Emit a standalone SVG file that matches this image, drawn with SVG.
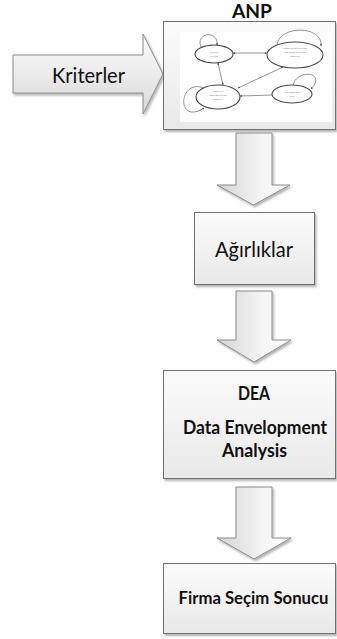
<svg xmlns="http://www.w3.org/2000/svg" width="337" height="639" viewBox="0 0 337 639">
  <defs>
    <linearGradient id="boxFill" x1="0" y1="0" x2="0" y2="1">
      <stop offset="0" stop-color="#fbfbfb"/>
      <stop offset="1" stop-color="#e9e9e9"/>
    </linearGradient>
    <linearGradient id="downFill" x1="0" y1="0" x2="1" y2="0">
      <stop offset="0" stop-color="#d4d4d4"/>
      <stop offset="0.6" stop-color="#f4f4f4"/>
      <stop offset="1" stop-color="#fdfdfd"/>
    </linearGradient>
    <linearGradient id="rightFill" x1="0" y1="0" x2="0" y2="1">
      <stop offset="0" stop-color="#fdfdfd"/>
      <stop offset="1" stop-color="#d9d9d9"/>
    </linearGradient>
    <filter id="shadow" x="-10%" y="-10%" width="125%" height="130%">
      <feDropShadow dx="1.5" dy="2" stdDeviation="1.2" flood-color="#000" flood-opacity="0.3"/>
    </filter>
    <marker id="tip" viewBox="0 0 6 6" refX="5.5" refY="3" markerWidth="3" markerHeight="3" orient="auto-start-reverse">
      <path d="M0,0 L6,3 L0,6 Z" fill="#444"/>
    </marker>
  </defs>
  <style>
    .box { fill: url(#boxFill); stroke: #6f6f6f; stroke-width: 1; filter: url(#shadow); }
    .down { fill: url(#downFill); stroke: #8a8a8a; stroke-width: 1; filter: url(#shadow); }
    .lbl { font-family: Lato, "Open Sans", "Liberation Sans", sans-serif; fill: #111; text-anchor: middle; }
    .reg { font-size: 22px; }
    .bold { font-size: 18px; font-weight: bold; }
    .ell { fill: #fff; stroke: #4a4a4a; stroke-width: 1.1; }
    .edge { fill: none; stroke: #666; stroke-width: 0.7; }
    .tiny { font-family: "Liberation Serif", serif; font-size: 2.8px; fill: #777; text-anchor: middle; }
  </style>

  <!-- input arrow: criteria -->
  <g id="node-kriterler">
    <path d="M13,55 H143 V34 L163,74 L143,114 V93 H13 Z" fill="url(#rightFill)" stroke="#8a8a8a" stroke-width="1" filter="url(#shadow)"/>
    <text class="lbl reg" x="88.5" y="83" textLength="73" lengthAdjust="spacingAndGlyphs">Kriterler</text>
  </g>

  <!-- ANP model box with network sketch -->
  <g id="node-anp">
    <text class="lbl" x="252" y="18" font-size="18" font-weight="bold" textLength="40" lengthAdjust="spacingAndGlyphs">ANP</text>
    <rect class="box" x="163.5" y="21.5" width="172" height="108"/>
    <rect x="180" y="32" width="152" height="90" fill="#fff"/>
    <g id="anp-network">
      <!-- self loops -->
      <path class="edge" d="M201,47 C195,32 219,30 217,45" marker-end="url(#tip)"/>
      <path class="edge" d="M277,45 C279,25 323,25 321,46" marker-end="url(#tip)"/>
      <path class="edge" d="M204,88 C178,78 176,126 204,108" marker-end="url(#tip)"/>
      <path class="edge" d="M293,86 C295,69 328,71 311,89" marker-end="url(#tip)"/>
      <!-- links -->
      <line class="edge" x1="233" y1="53" x2="267" y2="53" marker-start="url(#tip)" marker-end="url(#tip)"/>
      <line class="edge" x1="218" y1="63" x2="223" y2="85" marker-start="url(#tip)" marker-end="url(#tip)"/>
      <line class="edge" x1="283" y1="67" x2="238" y2="88" marker-start="url(#tip)" marker-end="url(#tip)"/>
      <line class="edge" x1="272" y1="95" x2="240" y2="96" marker-end="url(#tip)"/>
      <!-- clusters -->
      <ellipse class="ell" cx="214" cy="54" rx="19" ry="9"/>
      <ellipse class="ell" cx="295" cy="55" rx="28" ry="13"/>
      <ellipse class="ell" cx="218" cy="97" rx="22" ry="12"/>
      <ellipse class="ell" cx="292" cy="94" rx="20" ry="9"/>
      <text class="tiny" x="214" y="53">Quality</text>
      <text class="tiny" x="214" y="57">system</text>
      <text class="tiny" x="295" y="49">Organization structure</text>
      <text class="tiny" x="295" y="53">and manufacturing</text>
      <text class="tiny" x="295" y="57">capability</text>
      <text class="tiny" x="218" y="92">Supplier's</text>
      <text class="tiny" x="218" y="96">implementation</text>
      <text class="tiny" x="218" y="100">capability</text>
      <text class="tiny" x="292" y="93">Environmental</text>
      <text class="tiny" x="292" y="97">issue</text>
    </g>
  </g>

  <!-- flow arrows -->
  <g id="connectors">
    <path class="down" d="M236,133 H272 V185 H290 L253.5,205 L217,185 H236 Z"/>
    <path class="down" d="M236,291 H272 V340 H291 L254,362 L217,340 H236 Z"/>
    <path class="down" d="M236,487 H272 V538 H291 L254,559 L217,538 H236 Z"/>
  </g>

  <g id="node-agirliklar">
    <rect class="box" x="194.5" y="212.5" width="120" height="72"/>
    <text class="lbl reg" x="254" y="257" textLength="78" lengthAdjust="spacingAndGlyphs">Ağırlıklar</text>
  </g>

  <g id="node-dea">
    <rect class="box" x="163.5" y="370.5" width="172" height="108"/>
    <text class="lbl bold" x="254" y="400" textLength="32" lengthAdjust="spacingAndGlyphs">DEA</text>
    <text class="lbl bold" x="255" y="434" textLength="144" lengthAdjust="spacingAndGlyphs">Data Envelopment</text>
    <text class="lbl bold" x="254.5" y="457" textLength="65" lengthAdjust="spacingAndGlyphs">Analysis</text>
  </g>

  <g id="node-firma">
    <rect class="box" x="163.5" y="563.5" width="172" height="70"/>
    <text class="lbl" x="253.5" y="604" font-size="16.5" font-weight="bold" textLength="150" lengthAdjust="spacingAndGlyphs">Firma Seçim Sonucu</text>
  </g>
</svg>
